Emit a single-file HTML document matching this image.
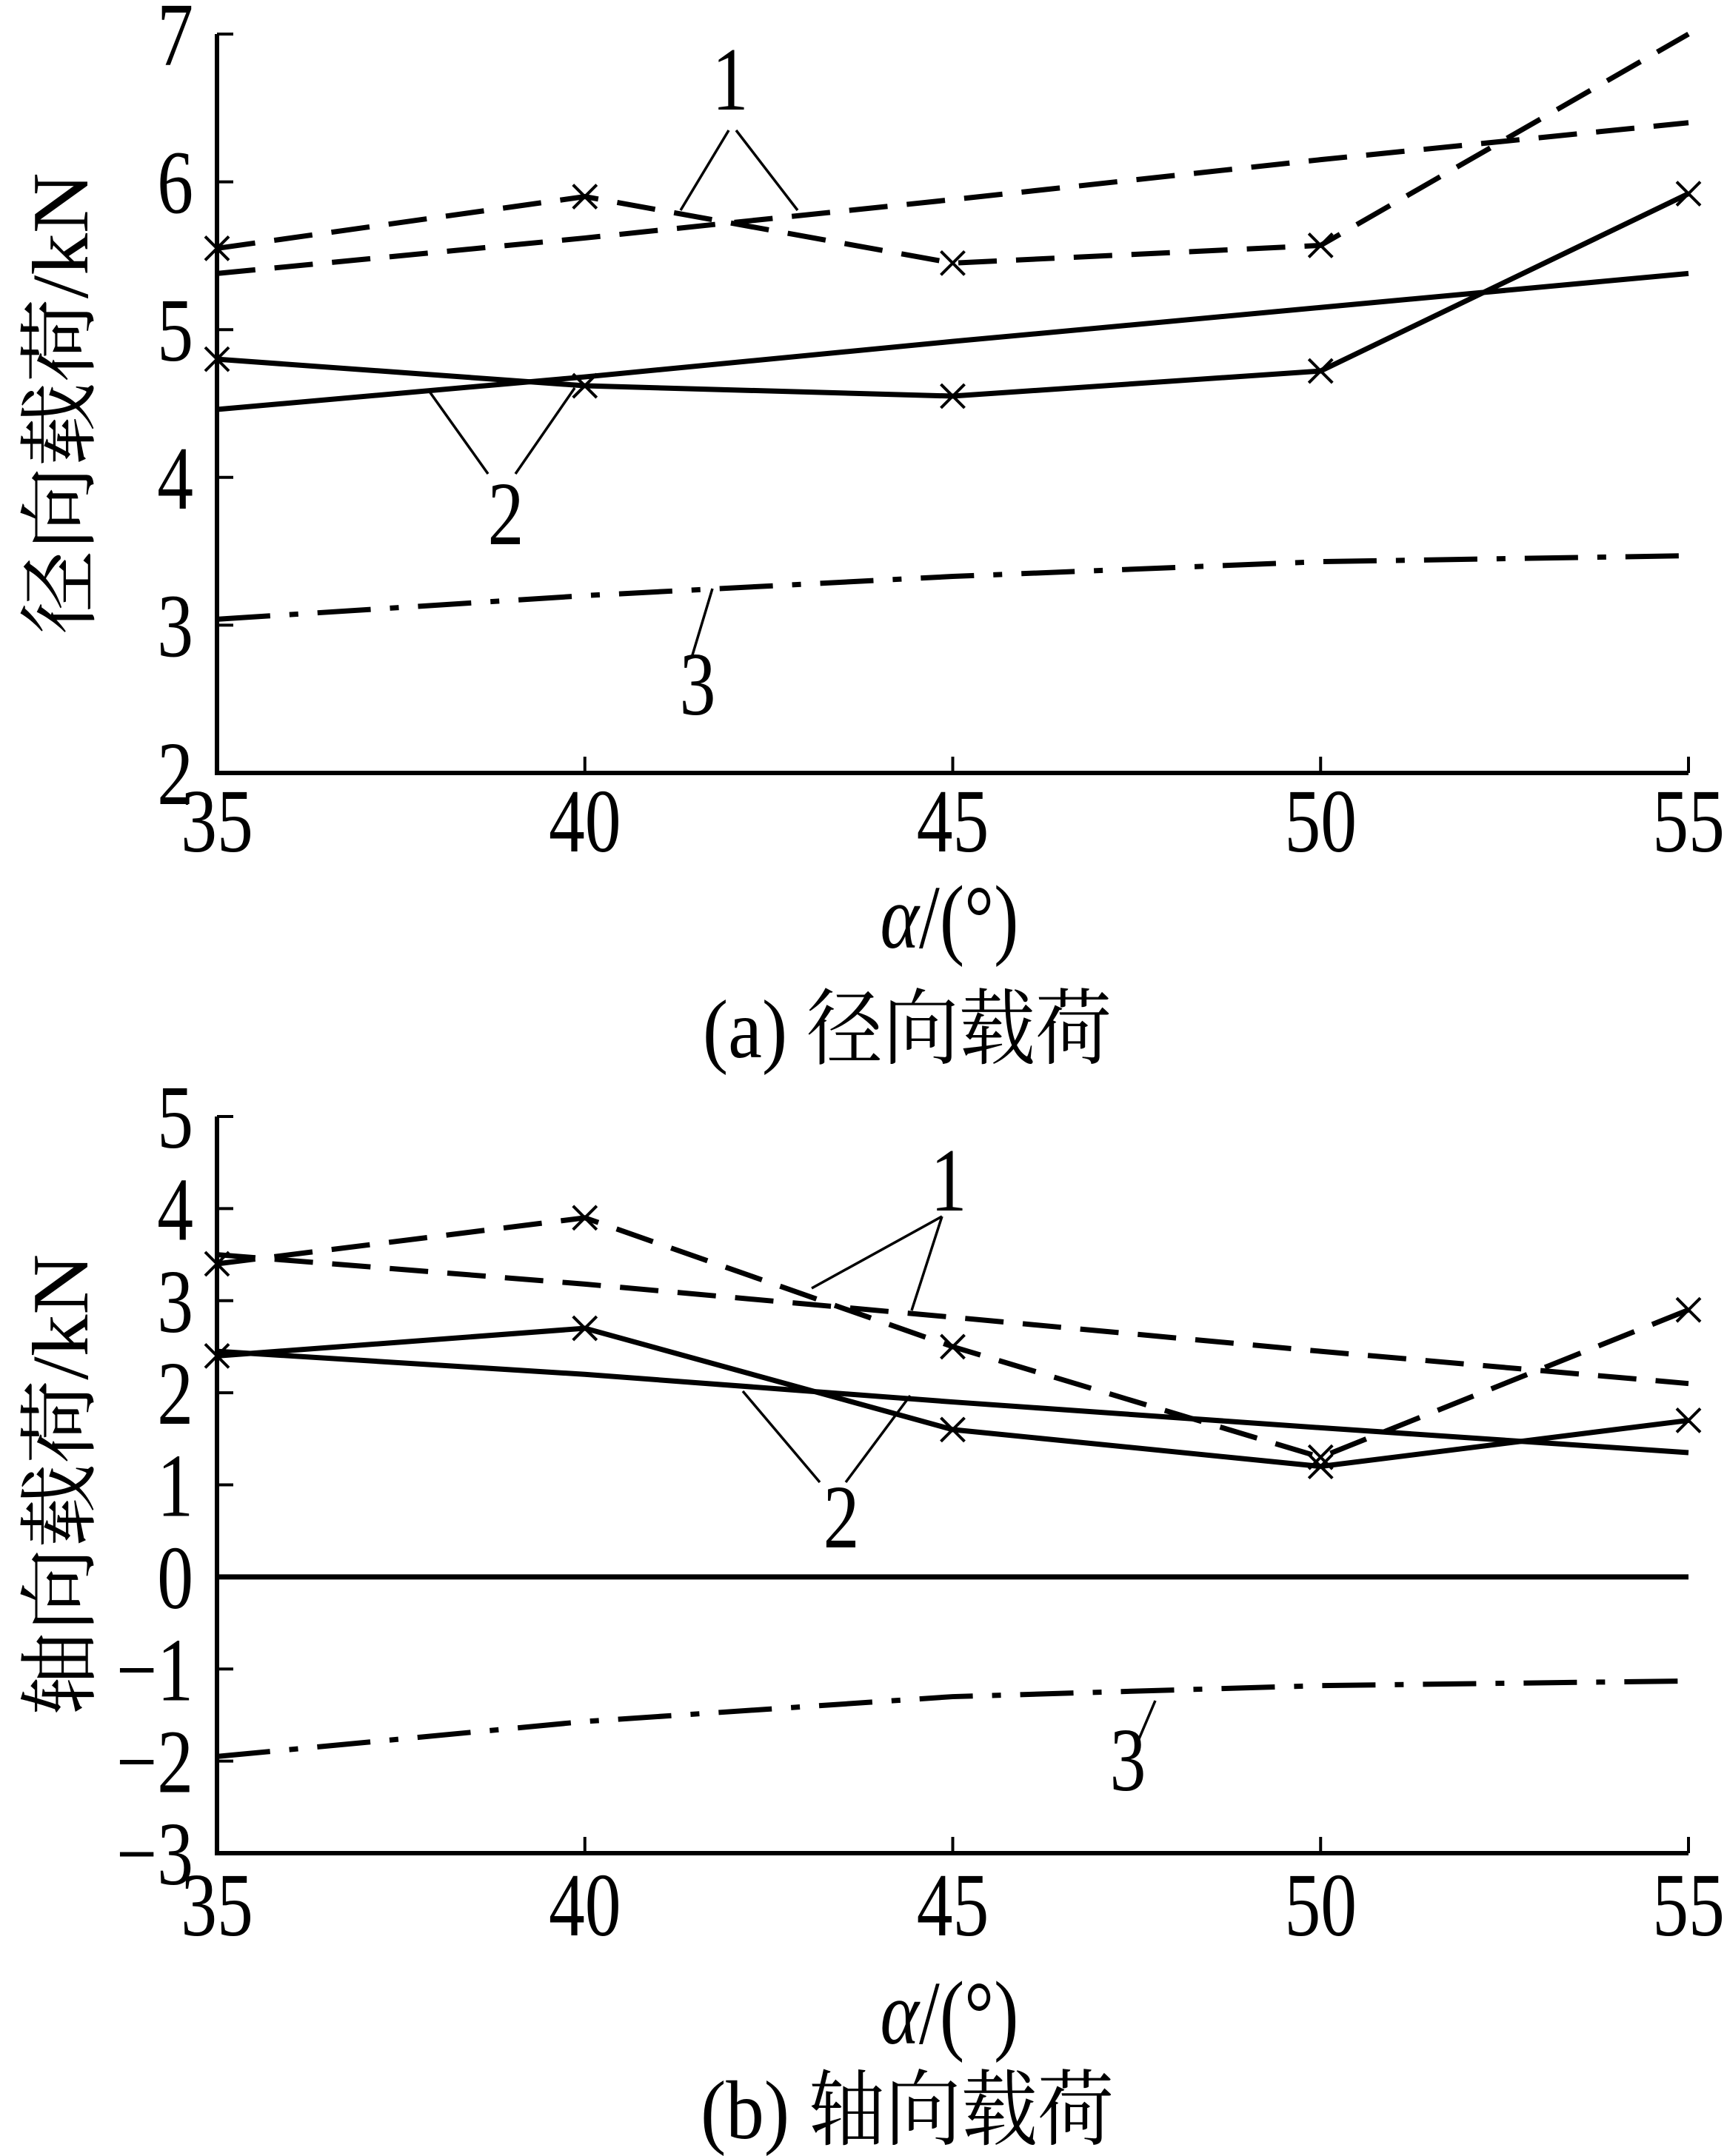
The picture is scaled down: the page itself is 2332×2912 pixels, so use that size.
<!DOCTYPE html>
<html><head><meta charset="utf-8"><style>
html,body{margin:0;padding:0;background:#fff;}
svg{display:block;}
text{font-family:"Liberation Serif","Noto Serif CJK SC",serif;fill:#000;}
</style></head>
<body>
<svg id="chart" width="2332" height="2912" viewBox="0 0 2332 2912" xmlns="http://www.w3.org/2000/svg">
<g id="pa"></g>
<g id="pb"></g>
</svg>
<script>
const xCats=[35,40,45,50,55];
const aTicks=[2,3,4,5,6,7];
const bTicks=[-3,-2,-1,0,1,2,3,4,5];
const a1x=[5.55,5.9,5.45,5.57,7.0];
const a1=[5.38,5.62,5.88,6.15,6.4];
const a2x=[4.8,4.62,4.55,4.72,5.92];
const a2=[4.46,4.68,4.92,5.15,5.38];
const a3=[3.04,3.2,3.33,3.43,3.47];
const b1x=[3.4,3.9,2.5,1.3,2.9];
const b1=[3.5,3.18,2.82,2.45,2.1];
const b2x=[2.4,2.7,1.6,1.2,1.7];
const b2=[2.45,2.2,1.9,1.62,1.35];
const b3=[-1.95,-1.57,-1.3,-1.18,-1.13];

const NS='http://www.w3.org/2000/svg';
function mk(p,tag,at,txt){const e=document.createElementNS(NS,tag);for(const k in at)e.setAttribute(k,at[k]);if(txt!==undefined)e.textContent=txt;p.appendChild(e);return e;}
const X0=293,X1=2280;
function xs(v){return X0+(v-35)/20*(X1-X0);}
function ct(g,x,y,size,anchor,txt,sx){
  return mk(g,'text',{x:0,y:0,'font-size':size,'text-anchor':anchor,transform:`translate(${x},${y}) scale(${sx||0.8},1)`},txt);
}

function panel(g,yTop,yBot,vMin,vMax,ticks,series,yTitle,caption,capY,labY,alphaY,ann){
  const ys=v=>yBot-(v-vMin)/(vMax-vMin)*(yBot-yTop);
  let e=mk(g,'line',{x1:X0,y1:yTop,x2:X0,y2:yBot,stroke:'#000','stroke-width':6});
  
  
  e=mk(g,'line',{x1:X0-3,y1:yBot,x2:X1,y2:yBot,stroke:'#000','stroke-width':6});
  
  
  ticks.forEach(t=>{
    const y=ys(t);
    let l=mk(g,'line',{x1:X0,y1:y,x2:X0+22,y2:y,stroke:'#000','stroke-width':4});
    
    
    let tx=ct(g,X0-32,y+42,122,'end',t<0?'\u2212'+(-t):String(t));
    
    
  });
  xCats.forEach(c=>{
    const x=xs(c);
    let l=mk(g,'line',{x1:x,y1:yBot,x2:x,y2:yBot-22,stroke:'#000','stroke-width':4});
    
    
    let tx=ct(g,x,labY,122,'middle',String(c));
    
    
  });
  series.forEach(s=>{
    const pts=s.v.map((v,i)=>xs(xCats[i])+','+ys(v)).join(' ');
    let pl=mk(g,'polyline',{points:pts,fill:'none',stroke:'#000','stroke-width':s.w||7,'stroke-dasharray':s.d||'none'});
    
    
    if(s.m){s.v.forEach((v,i)=>{
      if(s.skipLast&&i===s.v.length-1)return;
      const x=xs(xCats[i]),y=ys(v),r=16;
      let m=mk(g,'path',{d:`M${x-r},${y-r}L${x+r},${y+r}M${x-r},${y+r}L${x+r},${y-r}`,stroke:'#000','stroke-width':4,fill:'none'});
      
      
    });}
  });
  ann.forEach(a=>{
    let tx=ct(g,a.x,a.y,122,'middle',a.t);
    
    
    a.l.forEach(L=>{
      let l=mk(g,'line',{x1:L[0],y1:L[1],x2:L[2],y2:L[3],stroke:'#000','stroke-width':3.5});
      
      
    });
  });
  const cy=(yTop+yBot)/2;
  let yt=mk(g,'text',{x:0,y:0,'font-size':108,'text-anchor':'middle',transform:`translate(118,${cy}) rotate(-90) scale(1.05,1)`},yTitle);
  
  
  let xt=mk(g,'text',{x:0,y:0,'font-size':122,'text-anchor':'middle',transform:`translate(1282,${alphaY}) scale(0.82,1)`});
  
  
  mk(xt,'tspan',{'font-style':'italic'},'\u03b1');
  mk(xt,'tspan',{},'/(\u00b0)');
  let cp=mk(g,'text',{x:0,y:0,'font-size':112,'text-anchor':'middle',transform:`translate(1225,${capY}) scale(0.92,1)`},caption);
  
  
  return ys;
}
const D='52 26', DD='72 26 12 26';
panel(document.getElementById('pa'),46,1044,2,7,aTicks,[
 {v:a1x,d:D,m:true,skipLast:true,n:'series-1-measured'},
 {v:a1,d:D,n:'series-1-calc'},
 {v:a2x,m:true,n:'series-2-measured'},
 {v:a2,n:'series-2-calc'},
 {v:a3,d:DD,n:'series-3'}],
 '径向载荷/kN','(a) 径向载荷',1428,1150,1280,
 [{t:'1',x:986,y:148,l:[[984,176,919,284],[994,176,1077,284]]},
  {t:'2',x:683,y:735,l:[[580,529,659,640],[696,640,776,524]]},
  {t:'3',x:942,y:965,l:[[962,795,934,888]]}]);
panel(document.getElementById('pb'),1508,2503,-3,5,bTicks,[
 {v:b1x,d:D,m:true,n:'series-1-measured'},
 {v:b1,d:D,n:'series-1-calc'},
 {v:b2x,m:true,n:'series-2-measured'},
 {v:b2,n:'series-2-calc'},
 {v:b3,d:DD,n:'series-3'},
 {v:[0,0,0,0,0],w:7,n:'zero-line'}],
 '轴向载荷/kN','(b) 轴向载荷',2888,2614,2760,
 [{t:'1',x:1281,y:1635,l:[[1272,1643,1096,1740],[1272,1643,1231,1770]]},
  {t:'2',x:1136,y:2090,l:[[1003,1879,1107,2002],[1142,2002,1229,1885]]},
  {t:'3',x:1523,y:2418,l:[[1560,2297,1534,2358]]}]);
</script>
</body></html>
